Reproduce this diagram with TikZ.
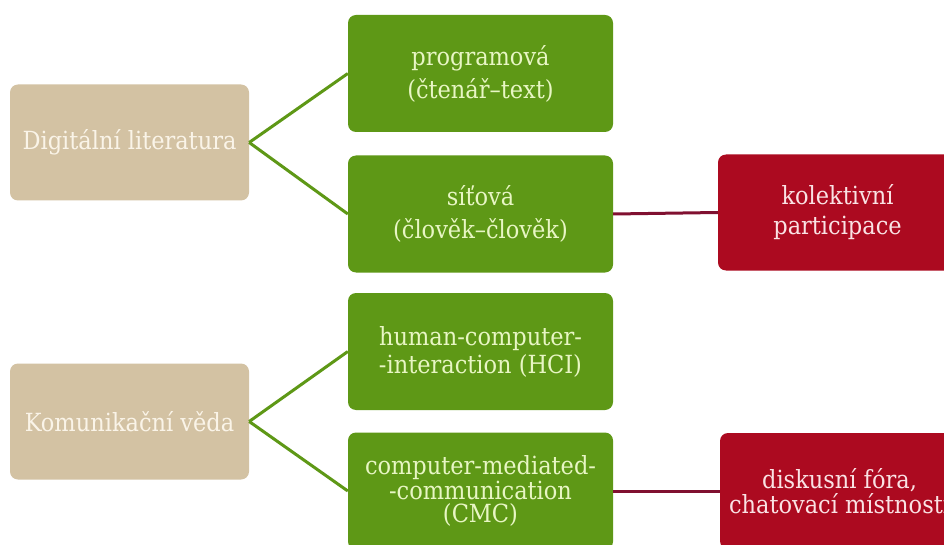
\documentclass[tikz,border=0pt]{standalone}
\usepackage{fontspec}
\setmainfont{DejaVu Serif Condensed}
\definecolor{beige}{RGB}{211,194,163}
\definecolor{beigetext}{RGB}{250,244,232}
\definecolor{leaf}{RGB}{94,152,22}
\definecolor{leaftext}{RGB}{232,246,196}
\definecolor{wine}{RGB}{172,10,32}
\definecolor{winetext}{RGB}{250,226,228}
\definecolor{wineline}{RGB}{128,16,48}
\tikzset{
  box/.style={rectangle, rounded corners=8pt, align=center, inner sep=2pt,
    font=\fontsize{25}{30}\selectfont},
  lsp/.style={font=\fontsize{25}{#1}\selectfont},
  rootbox/.style={box, fill=beige, text=beigetext, minimum width=239pt, minimum height=116pt},
  leafbox/.style={box, fill=leaf, text=leaftext, minimum width=265pt, minimum height=117pt},
  notebox/.style={box, fill=wine, text=winetext, minimum width=239pt, minimum height=116pt},
  leafline/.style={draw=leaf, line width=3pt},
  wineline/.style={draw=wineline, line width=3pt},
}
\begin{document}
\begin{tikzpicture}[x=1pt,y=-1pt]
  \useasboundingbox (0,0) rectangle (944,545);
  \clip (0,0) rectangle (944,545);
  \fill[white] (0,0) rectangle (944,545);

  % upper branch: digital literature
  \node[rootbox] (dl) at (129.5,142.5) {Digitální literatura};
  \node[leafbox, lsp=33] (prog) at (480.5,73.5) {programová\\(čtenář–text)};
  \node[leafbox, lsp=33] (sit) at (480.5,214) {síťová\\(člověk–člověk)};
  \node[notebox, lsp=30] (kol) at (837.5,212.5) {kolektivní\\participace};

  % lower branch: communication science
  \node[rootbox] (kv) at (129.5,421.5) {Komunikační věda};
  \node[leafbox, lsp=28] (hci) at (480.5,351.5) {human-computer-\\-interaction (HCI)};
  \node[leafbox, lsp=23] (cmc) at (480.5,491) {computer-mediated-\\-communication\\(CMC)};
  \node[notebox, lsp=25] (dis) at (839.5,491) {diskusní fóra,\\chatovací místnosti};

  \draw[leafline] (dl.east) -- (prog.west);
  \draw[leafline] (dl.east) -- (sit.west);
  \draw[wineline] (sit.east) -- (kol.west);
  \draw[leafline] (kv.east) -- (hci.west);
  \draw[leafline] (kv.east) -- (cmc.west);
  \draw[wineline] (cmc.east) -- (dis.west);
\end{tikzpicture}
\end{document}
